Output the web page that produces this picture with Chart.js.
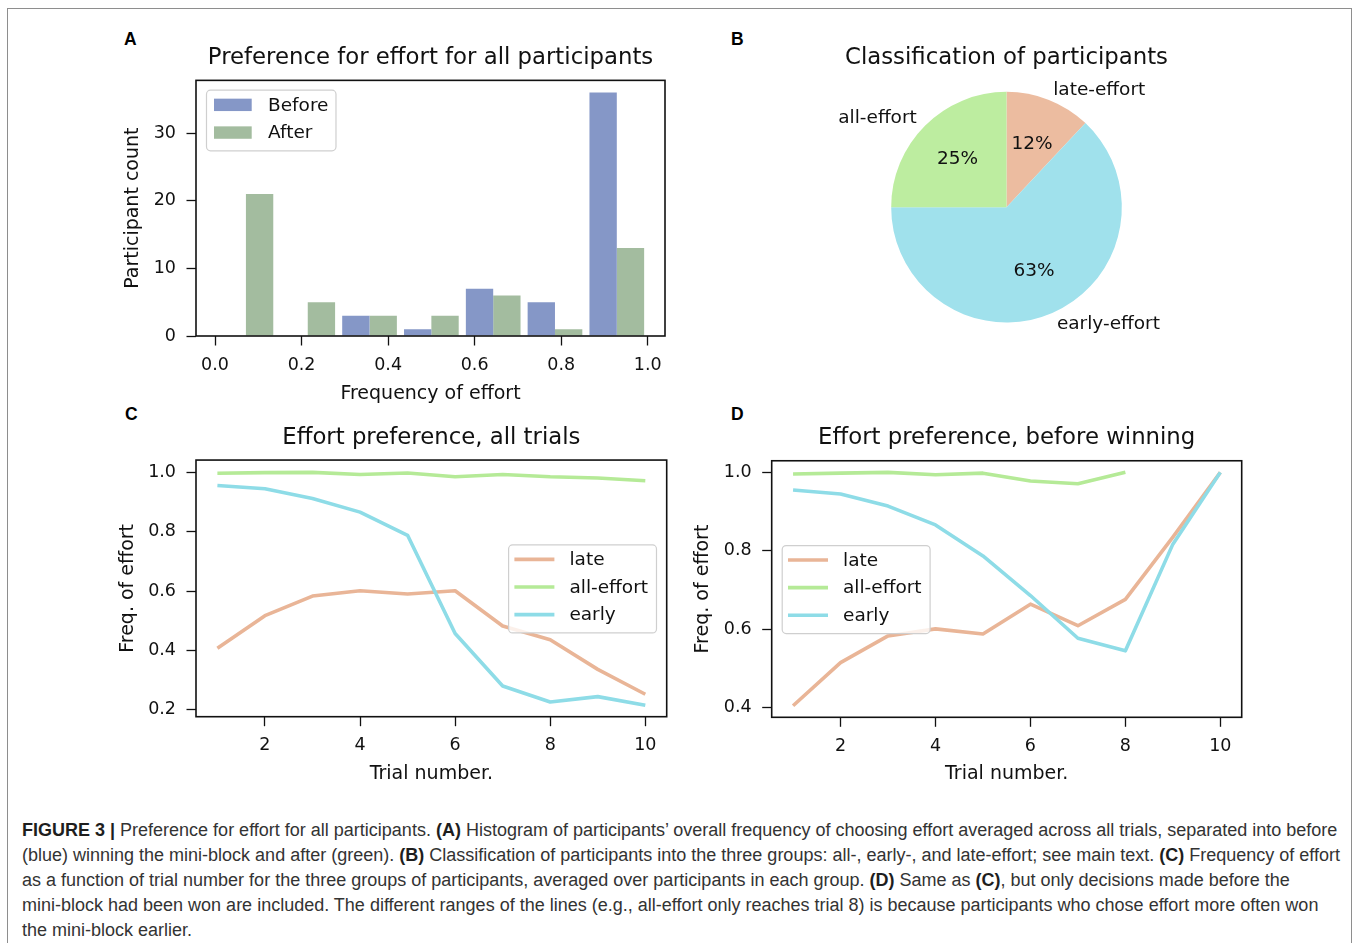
<!DOCTYPE html>
<html>
<head>
<meta charset="utf-8">
<title>Figure 3 – Preference for effort</title>
<script src="https://cdn.jsdelivr.net/npm/chart.js@4.4.1/dist/chart.umd.min.js"></script>
<style>
  html, body { margin: 0; padding: 0; background: #fff; }
  body { width: 1358px; height: 943px; position: relative; overflow: hidden; font-family: "DejaVu Sans", sans-serif; }
  .frame { position: absolute; left: 7px; top: 8px; width: 1345px; height: 980px; border: 1.5px solid #8e8e8e; box-sizing: border-box; }
  canvas { position: absolute; }
  .letter { position: absolute; font: bold 17.5px "Liberation Sans", Arial, sans-serif; color: #000; line-height: 1; }
  #caption { position: absolute; left: 22px; top: 818px; font-family: "Liberation Sans", Arial, sans-serif; font-size: 16px; color: #333; line-height: 25px; white-space: nowrap; }
  #caption b { color: #1e1e1e; }
</style>
</head>
<body>
<div class="frame"></div>

<div class="letter" style="left:124px;top:31px">A</div>
<div class="letter" style="left:731px;top:31px">B</div>
<div class="letter" style="left:125px;top:406px">C</div>
<div class="letter" style="left:731px;top:406px">D</div>

<canvas id="histA" width="600" height="380" style="left:100px;top:30px"></canvas>
<canvas id="pieB" width="573" height="330" style="left:720px;top:30px"></canvas>
<canvas id="lineC" width="600" height="390" style="left:100px;top:400px"></canvas>
<canvas id="lineD" width="600" height="390" style="left:676px;top:400px"></canvas>

<div id="caption">
  <div class="cl" id="capFirst"><b>FIGURE 3 |</b> Preference for effort for all participants. <b>(A)</b> Histogram of participants’ overall frequency of choosing effort averaged across all trials, separated into before</div>
  <div class="cl">(blue) winning the mini-block and after (green). <b>(B)</b> Classification of participants into the three groups: all-, early-, and late-effort; see main text. <b>(C)</b> Frequency of effort</div>
  <div class="cl">as a function of trial number for the three groups of participants, averaged over participants in each group. <b>(D)</b> Same as <b>(C)</b>, but only decisions made before the</div>
  <div class="cl">mini-block had been won are included. The different ranges of the lines (e.g., all-effort only reaches trial 8) is because participants who chose effort more often won</div>
  <div class="cl">the mini-block earlier.</div>
</div>

<script>
// ---------- Panel A: histogram of overall effort frequency ----------
const histBinCenters = [0.0714, 0.2143, 0.3571, 0.5, 0.6429, 0.7857, 0.9286];
const histBefore = [0, 0, 3, 1, 7, 5, 36];
const histAfter = [21, 5, 3, 3, 6, 1, 13];
const histXTicks = [0, 0.2, 0.4, 0.6, 0.8, 1.0];
const histXTickLabels = ['0.0', '0.2', '0.4', '0.6', '0.8', '1.0'];
const histYTicks = [0, 10, 20, 30];
const histYTickLabels = ['0', '10', '20', '30'];

// ---------- Panel B: participant classes ----------
const pieLabels = ['late-effort', 'early-effort', 'all-effort'];
const pieValues = [12, 63, 25];

// ---------- Panels C and D: effort by trial ----------
const trials = [1, 2, 3, 4, 5, 6, 7, 8, 9, 10];
const lateAll = [0.407, 0.517, 0.583, 0.601, 0.590, 0.601, 0.482, 0.436, 0.336, 0.252];
const allEffortAll = [0.997, 0.999, 1.000, 0.993, 0.998, 0.985, 0.993, 0.985, 0.981, 0.972];
const earlyAll = [0.956, 0.945, 0.912, 0.866, 0.788, 0.457, 0.280, 0.226, 0.244, 0.215];

const lateBeforeWin = [0.405, 0.515, 0.583, 0.601, 0.588, 0.664, 0.609, 0.676, 0.835, 1.000];
const allEffortBeforeWin = [0.996, 0.998, 1.000, 0.994, 0.998, 0.978, 0.971, 1.000];
const earlyBeforeWin = [0.955, 0.945, 0.914, 0.866, 0.787, 0.686, 0.577, 0.545, 0.817, 1.000];

const trialTicks = [2, 4, 6, 8, 10];
const trialTickLabels = ['2', '4', '6', '8', '10'];
const freqTicksC = [0.2, 0.4, 0.6, 0.8, 1.0];
const freqTickLabelsC = ['0.2', '0.4', '0.6', '0.8', '1.0'];
const freqTicksD = [0.4, 0.6, 0.8, 1.0];
const freqTickLabelsD = ['0.4', '0.6', '0.8', '1.0'];

// ---------- styling ----------
const INK = '#111111';
const colBefore = '#8597c7';
const colAfter = '#a3bc9f';
const colLate = '#e9b597';
const colAll = '#b5ea97';
const colEarly = '#8edce7';
const pieColors = ['#ecbca0', '#a0e1ec', '#bdeda0'];

Chart.defaults.font.family = "'DejaVu Sans', sans-serif";
Chart.defaults.color = INK;
Chart.defaults.animation = false;

// Draws the full box around the plotting area (all four spines).
const axesFrame = {
  id: 'axesFrame',
  afterDatasetsDraw(chart) {
    const { ctx, chartArea: a } = chart;
    ctx.save();
    ctx.strokeStyle = INK;
    ctx.lineWidth = 1.6;
    ctx.strokeRect(a.left, a.top, a.right - a.left, a.bottom - a.top);
    ctx.restore();
  }
};

// Legend drawn inside the plotting area, built from the chart's datasets.
const boxLegend = {
  id: 'boxLegend',
  afterDraw(chart, args, o) {
    if (!o || !o.loc) return;
    const { ctx, chartArea: a } = chart;
    const ds = chart.data.datasets;
    ctx.save();
    ctx.font = o.fontSize + "px 'DejaVu Sans'";
    const tw = Math.max(...ds.map(d => ctx.measureText(d.label).width));
    const w = o.textX + tw + o.padRight;
    const h = o.padTop + (ds.length - 1) * o.rowH + o.padBottom;
    let x, y;
    if (o.loc === 'upper left') { x = a.left + o.inset; y = a.top + o.insetTop; }
    else if (o.loc === 'center right') { x = a.right - o.inset - w; y = (a.top + a.bottom) / 2 - h / 2; }
    else { x = a.left + o.inset; y = (a.top + a.bottom) / 2 - h / 2; }
    ctx.beginPath();
    ctx.roundRect(x + 0.5, y + 0.5, w, h, 4);
    ctx.fillStyle = 'rgba(255,255,255,0.8)';
    ctx.fill();
    ctx.lineWidth = 1.2;
    ctx.strokeStyle = '#cfcfcf';
    ctx.stroke();
    ds.forEach((d, i) => {
      const cy = y + o.padTop + i * o.rowH;
      if (o.kind === 'patch') {
        ctx.fillStyle = d.backgroundColor;
        ctx.fillRect(x + o.handleX, cy - o.patchH / 2, o.handleLen, o.patchH);
      } else {
        ctx.strokeStyle = d.borderColor;
        ctx.lineWidth = d.borderWidth;
        ctx.lineCap = 'butt';
        ctx.beginPath();
        ctx.moveTo(x + o.handleX, cy);
        ctx.lineTo(x + o.handleX + o.handleLen, cy);
        ctx.stroke();
      }
      ctx.fillStyle = INK;
      ctx.textAlign = 'left';
      ctx.textBaseline = 'middle';
      ctx.fillText(d.label, x + o.textX, cy + 1);
    });
    ctx.restore();
  }
};

// Slice names outside the pie and percentages inside, placed on each arc's mid-angle.
const pieText = {
  id: 'pieText',
  afterDatasetsDraw(chart, args, o) {
    const { ctx } = chart;
    const meta = chart.getDatasetMeta(0);
    const values = chart.data.datasets[0].data;
    ctx.save();
    ctx.font = o.fontSize + "px 'DejaVu Sans'";
    ctx.fillStyle = INK;
    ctx.textBaseline = 'middle';
    meta.data.forEach((arc, i) => {
      const p = arc.getProps(['x', 'y', 'startAngle', 'endAngle', 'outerRadius'], true);
      const mid = (p.startAngle + p.endAngle) / 2;
      const c = Math.cos(mid), s = Math.sin(mid);
      ctx.textAlign = 'center';
      ctx.fillText(values[i] + '%', p.x + c * p.outerRadius * o.pctDistance, p.y + s * p.outerRadius * o.pctDistance + 1);
      ctx.textAlign = c >= 0 ? 'left' : 'right';
      ctx.fillText(chart.data.labels[i], p.x + c * p.outerRadius * o.labelDistance, p.y + s * p.outerRadius * o.labelDistance + 1);
    });
    ctx.restore();
  }
};

function tickGrid(len) {
  return { display: true, drawOnChartArea: false, drawTicks: true, tickLength: len, tickWidth: 1.3, tickColor: INK, offset: false };
}

function xAxis(c) {
  return {
    type: 'linear', bounds: 'data', min: c.min, max: c.max, offset: false,
    afterBuildTicks: s => { s.ticks = c.ticks.map(v => ({ value: v })); },
    afterFit: s => { s.height = c.size; },
    grid: tickGrid(9.5),
    border: { display: false },
    ticks: { font: { size: 17.5 }, color: INK, padding: c.tickPad, maxRotation: 0, autoSkip: false, callback: (v, i) => c.labels[i] },
    title: { display: true, text: c.title, font: { size: 19 }, color: INK, padding: { top: 0, bottom: c.titlePad } }
  };
}

function yAxis(c) {
  return {
    type: 'linear', bounds: 'data', min: c.min, max: c.max,
    afterBuildTicks: s => { s.ticks = c.ticks.map(v => ({ value: v })); },
    afterFit: s => { s.width = c.size; },
    grid: tickGrid(9.5),
    border: { display: false },
    ticks: { font: { size: 17.5 }, color: INK, padding: 10.5, autoSkip: false, callback: (v, i) => c.labels[i] },
    title: { display: true, text: c.title, font: { size: 19 }, color: INK, padding: { top: c.titlePad, bottom: 0 } }
  };
}

function chartTitle(text, top, bottom, fullSize) {
  return { display: true, text, fullSize: !!fullSize, font: { size: 22.8, weight: 'normal' }, color: INK, padding: { top, bottom } };
}

// ---------- A ----------
new Chart(document.getElementById('histA'), {
  type: 'bar',
  data: {
    datasets: [
      { label: 'Before', data: histBinCenters.map((x, i) => ({ x, y: histBefore[i] })), backgroundColor: colBefore, borderWidth: 0, categoryPercentage: 0.885, barPercentage: 1.0 },
      { label: 'After', data: histBinCenters.map((x, i) => ({ x, y: histAfter[i] })), backgroundColor: colAfter, borderWidth: 0, categoryPercentage: 0.885, barPercentage: 1.0 }
    ]
  },
  options: {
    responsive: false,
    layout: { padding: { left: 0, top: 0, right: 35, bottom: 0 } },
    plugins: {
      legend: { display: false },
      tooltip: { enabled: false },
      title: chartTitle('Preference for effort for all participants', 14.5, 8.5),
      boxLegend: { loc: 'upper left', kind: 'patch', inset: 10, insetTop: 9.3, fontSize: 18.5, padTop: 15.2, rowH: 27.7, padBottom: 17.8, handleX: 8, handleLen: 37.7, patchH: 12.4, textX: 62, padRight: 7 }
    },
    scales: {
      x: xAxis({ min: -0.044, max: 1.04, ticks: histXTicks, labels: histXTickLabels, size: 74, tickPad: 9.5, title: 'Frequency of effort', titlePad: 4.6 }),
      y: yAxis({ min: 0, max: 37.8, ticks: histYTicks, labels: histYTickLabels, size: 96, title: 'Participant count', titlePad: 21.6 })
    }
  },
  plugins: [axesFrame, boxLegend]
});

// ---------- B ----------
new Chart(document.getElementById('pieB'), {
  type: 'pie',
  data: {
    labels: pieLabels,
    datasets: [{ data: pieValues, backgroundColor: pieColors, borderWidth: 0 }]
  },
  options: {
    responsive: false,
    rotation: 0,
    layout: { padding: { left: 0, top: 0, right: 0, bottom: 37.5 } },
    plugins: {
      legend: { display: false },
      tooltip: { enabled: false },
      title: chartTitle('Classification of participants', 14.8, 19.7, true),
      pieText: { fontSize: 18.5, pctDistance: 0.6, labelDistance: 1.1 }
    }
  },
  plugins: [pieText]
});

// ---------- C and D ----------
function lineSets(late, all, early) {
  const pts = arr => arr.map((y, i) => ({ x: trials[i], y }));
  return [
    { label: 'late', data: pts(late), borderColor: colLate, order: 2 },
    { label: 'all-effort', data: pts(all), borderColor: colAll, order: 1 },
    { label: 'early', data: pts(early), borderColor: colEarly, order: 0 }
  ].map(d => Object.assign(d, { borderWidth: 3.6, pointRadius: 0, tension: 0, fill: false, borderJoinStyle: 'round' }));
}

function lineOptions(c) {
  return {
    responsive: false,
    layout: { padding: { left: 0, top: 0, right: c.padRight, bottom: 0 } },
    plugins: {
      legend: { display: false },
      tooltip: { enabled: false },
      title: chartTitle(c.title, c.titleTop, c.titleBottom),
      boxLegend: { loc: c.legendLoc, kind: 'line', inset: c.legendInset, insetTop: 10, fontSize: 18.5, padTop: 15, rowH: 27.6, padBottom: 17.8, handleX: 6.3, handleLen: 40, textX: 61.3, padRight: 8 }
    },
    scales: {
      x: xAxis({ min: 0.55, max: 10.45, ticks: trialTicks, labels: trialTickLabels, size: c.xSize, tickPad: 9, title: 'Trial number.', titlePad: 4.8 }),
      y: yAxis({ min: c.yMin, max: c.yMax, ticks: c.yTicks, labels: c.yLabels, size: c.ySize, title: 'Freq. of effort', titlePad: c.yTitlePad })
    }
  };
}

new Chart(document.getElementById('lineC'), {
  type: 'line',
  data: { datasets: lineSets(lateAll, allEffortAll, earlyAll) },
  options: lineOptions({
    title: 'Effort preference, all trials', titleTop: 24.7, titleBottom: 8,
    padRight: 33.3, xSize: 73.3, ySize: 96, yTitlePad: 16.6,
    yMin: 0.1764, yMax: 1.0415, yTicks: freqTicksC, yLabels: freqTickLabelsC,
    legendLoc: 'center right', legendInset: 10.7
  }),
  plugins: [axesFrame, boxLegend]
});

new Chart(document.getElementById('lineD'), {
  type: 'line',
  data: { datasets: lineSets(lateBeforeWin, allEffortBeforeWin, earlyBeforeWin) },
  options: lineOptions({
    title: 'Effort preference, before winning', titleTop: 24.7, titleBottom: 8.7,
    padRight: 34.3, xSize: 72.7, ySize: 95.7, yTitlePad: 15.6,
    yMin: 0.3755, yMax: 1.0296, yTicks: freqTicksD, yLabels: freqTickLabelsD,
    legendLoc: 'center left', legendInset: 10
  }),
  plugins: [axesFrame, boxLegend]
});

// ---------- caption: size the type so the first line spans the text block ----------
(function fitCaption() {
  const first = document.getElementById('capFirst');
  first.style.display = 'inline-block';
  const w = first.getBoundingClientRect().width;
  first.style.display = '';
  const size = 16 * 1316 / w;
  document.getElementById('caption').style.fontSize = size.toFixed(2) + 'px';
})();
</script>
</body>
</html>
